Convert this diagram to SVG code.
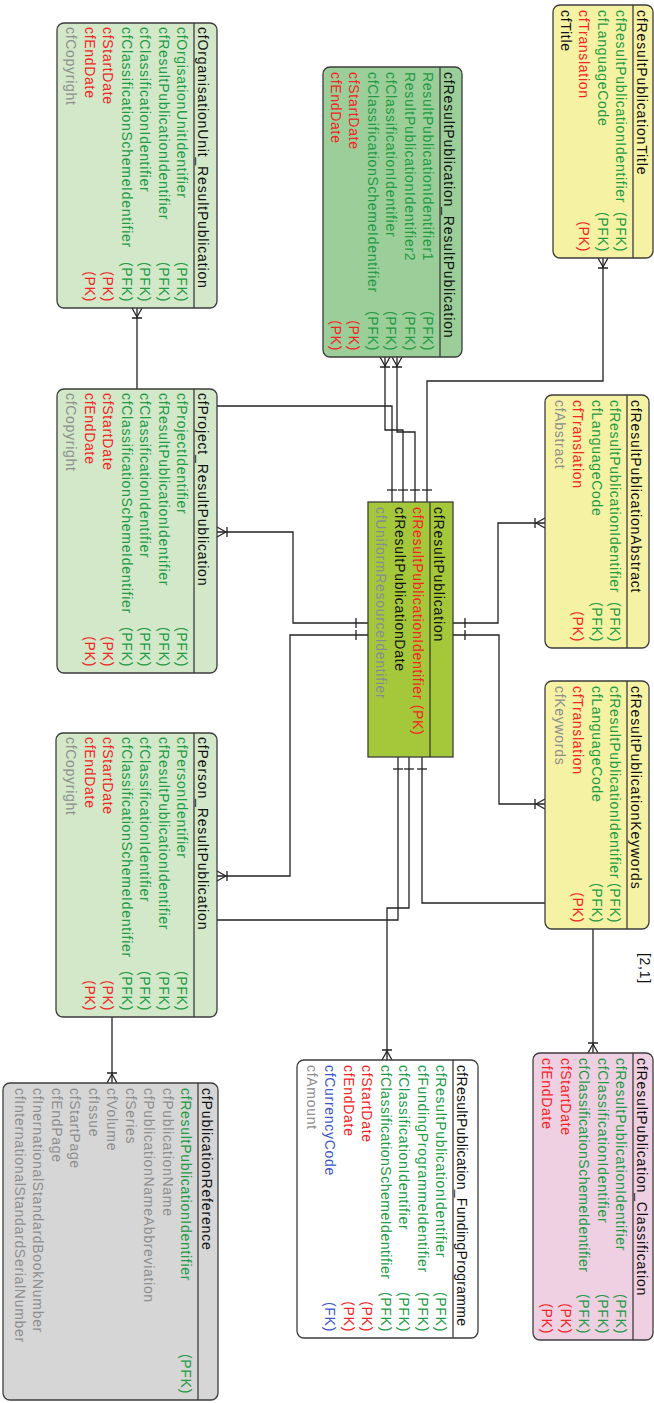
<svg xmlns="http://www.w3.org/2000/svg" width="654" height="1403" viewBox="0 0 654 1403">
  <style>
    text { font-family: "Liberation Sans", Arial, sans-serif; font-size: 14px; letter-spacing: 0.7px; }
    text.hd { letter-spacing: 0.85px; fill: #111; }
    text.hd.tight { letter-spacing: 0.3px; }
    text.snug { letter-spacing: 0.5px; }
    .box { stroke: #3c3c3c; stroke-width: 1.3; }
    .sep { stroke: #3c3c3c; stroke-width: 1.3; }
    .g { fill: #229a44; }
    .r { fill: #f22424; }
    .gr { fill: #8e8e8e; }
    .bl { fill: #3b58c6; }
    .k { fill: #111; }
    .end { text-anchor: end; }
    .yellow { fill: #f6f2a3; }
    .lgreen { fill: #d3e8c9; }
    .dgreen { fill: #9bce98; }
    .lime { fill: #a5c83b; }
    .pink { fill: #eed0e2; }
    .grey { fill: #d6d6d6; }
    .white { fill: #ffffff; }
    .conn path { fill: none; stroke: #222; stroke-width: 1.3; }
  </style>
  <defs>
    <marker id="one" markerUnits="userSpaceOnUse" markerWidth="20" markerHeight="20" orient="auto" overflow="visible">
      <path d="M12,-5 L12,5" stroke="#222" stroke-width="1.3" fill="none"/>
    </marker>
    <marker id="many" markerUnits="userSpaceOnUse" markerWidth="20" markerHeight="20" orient="auto" overflow="visible">
      <path d="M-9,0 L0,-5 M-9,0 L0,5 M-10,-5 L-10,5" stroke="#222" stroke-width="1.3" fill="none"/>
    </marker>
  </defs>

  <!-- relationship lines (drawn first so entity boxes sit on top) -->
  <g id="connectors" class="conn">
    <path d="M427,502 V381 H603 V258" marker-start="url(#one)" marker-end="url(#many)"/>
    <path d="M403,502 V430 H385 V357" marker-start="url(#one)" marker-end="url(#many)"/>
    <path d="M415,502 V432 H397 V357" marker-start="url(#one)" marker-end="url(#many)"/>
    <path d="M392,502 V406 H137 V308" marker-start="url(#one)" marker-end="url(#many)"/>
    <path d="M453,623 H498 V523 H545" marker-start="url(#one)" marker-end="url(#many)"/>
    <path d="M453,635 H499 V804 H545" marker-start="url(#one)" marker-end="url(#many)"/>
    <path d="M368,623 H293 V532 H217" marker-start="url(#one)" marker-end="url(#many)"/>
    <path d="M368,635 H290 V876 H217" marker-start="url(#one)" marker-end="url(#many)"/>
    <path d="M398,757 V920 H112 V1083" marker-start="url(#one)" marker-end="url(#many)"/>
    <path d="M409,757 V908 H387 V1060" marker-start="url(#one)" marker-end="url(#many)"/>
    <path d="M422,757 V903 H593 V1053" marker-start="url(#one)" marker-end="url(#many)"/>
    <text x="640" y="953" transform="rotate(90 640 953)" class="k">[2,1]</text>
  </g>

  <!-- entities: each group is laid out along the text direction and turned a quarter turn -->
  <g id="cfResultPublicationTitle" transform="translate(653,5) rotate(90)">
    <rect class="box yellow" x="0" y="0" width="253" height="100" rx="7"/>
    <line class="sep" x1="0" y1="20" x2="253" y2="20"/>
    <text class="hd" x="5" y="16">cfResultPublicationTitle</text>
    <text class="g" x="5" y="37">cfResultPublicationIdentifier</text><text class="g end" x="247" y="37">(PFK)</text>
    <text class="g" x="5" y="55.5">cfLanguageCode</text><text class="g end" x="247" y="55.5">(PFK)</text>
    <text class="r" x="5" y="74">cfTranslation</text><text class="r end" x="247" y="74">(PK)</text>
    <text class="k" x="5" y="92.5">cfTitle</text>
  </g>

  <g id="cfResultPublication_ResultPublication" transform="translate(462,67) rotate(90)">
    <rect class="box dgreen" x="0" y="0" width="290" height="139" rx="7"/>
    <line class="sep" x1="0" y1="22" x2="290" y2="22"/>
    <text class="hd" x="5" y="18">cfResultPublication_ResultPublication</text>
    <text class="g" x="5" y="39">ResultPublicationIdentifier1</text><text class="g end" x="284" y="39">(PFK)</text>
    <text class="g" x="5" y="57.5">ResultPublicationIdentifier2</text><text class="g end" x="284" y="57.5">(PFK)</text>
    <text class="g" x="5" y="76">cfClassificationIdentifier</text><text class="g end" x="284" y="76">(PFK)</text>
    <text class="g" x="5" y="94.5">cfClassificationSchemeIdentifier</text><text class="g end" x="284" y="94.5">(PFK)</text>
    <text class="r" x="5" y="113">cfStartDate</text><text class="r end" x="284" y="113">(PK)</text>
    <text class="r" x="5" y="131.5">cfEndDate</text><text class="r end" x="284" y="131.5">(PK)</text>
  </g>

  <g id="cfOrganisationUnit_ResultPublication" transform="translate(217,23) rotate(90)">
    <rect class="box lgreen" x="0" y="0" width="285" height="160" rx="7"/>
    <line class="sep" x1="0" y1="23" x2="285" y2="23"/>
    <text class="hd" x="4" y="19">cfOrganisationUnit_ResultPublication</text>
    <text class="g" x="4" y="40">cfOrgisationUnitIdentifier</text><text class="g end" x="279" y="40">(PFK)</text>
    <text class="g" x="4" y="58.5">cfResultPublicationIdentifier</text><text class="g end" x="279" y="58.5">(PFK)</text>
    <text class="g" x="4" y="77">cfClassificationIdentifier</text><text class="g end" x="279" y="77">(PFK)</text>
    <text class="g" x="4" y="95.5">cfClassificationSchemeIdentifier</text><text class="g end" x="279" y="95.5">(PFK)</text>
    <text class="r" x="4" y="114">cfStartDate</text><text class="r end" x="279" y="114">(PK)</text>
    <text class="r" x="4" y="132.5">cfEndDate</text><text class="r end" x="279" y="132.5">(PK)</text>
    <text class="gr" x="4" y="151">cfCopyright</text>
  </g>

  <g id="cfResultPublicationAbstract" transform="translate(649,395) rotate(90)">
    <rect class="box yellow" x="0" y="0" width="253" height="104" rx="7"/>
    <line class="sep" x1="0" y1="22" x2="253" y2="22"/>
    <text class="hd" x="5" y="18">cfResultPublicationAbstract</text>
    <text class="g" x="5" y="39">cfResultPublicationIdentifier</text><text class="g end" x="247" y="39">(PFK)</text>
    <text class="g" x="5" y="57.5">cfLanguageCode</text><text class="g end" x="247" y="57.5">(PFK)</text>
    <text class="r" x="5" y="76">cfTranslation</text><text class="r end" x="247" y="76">(PK)</text>
    <text class="gr" x="5" y="94.5">cfAbstract</text>
  </g>

  <g id="cfProject_ResultPublication" transform="translate(217,389) rotate(90)">
    <rect class="box lgreen" x="0" y="0" width="284" height="160" rx="7"/>
    <line class="sep" x1="0" y1="23" x2="284" y2="23"/>
    <text class="hd" x="4" y="19">cfProject_ResultPublication</text>
    <text class="g" x="4" y="40">cfProjectIdentifier</text><text class="g end" x="278" y="40">(PFK)</text>
    <text class="g" x="4" y="58.5">cfResultPublicationIdentifier</text><text class="g end" x="278" y="58.5">(PFK)</text>
    <text class="g" x="4" y="77">cfClassificationIdentifier</text><text class="g end" x="278" y="77">(PFK)</text>
    <text class="g" x="4" y="95.5">cfClassificationSchemeIdentifier</text><text class="g end" x="278" y="95.5">(PFK)</text>
    <text class="r" x="4" y="114">cfStartDate</text><text class="r end" x="278" y="114">(PK)</text>
    <text class="r" x="4" y="132.5">cfEndDate</text><text class="r end" x="278" y="132.5">(PK)</text>
    <text class="gr" x="4" y="151">cfCopyright</text>
  </g>

  <g id="cfResultPublication" transform="translate(453,502) rotate(90)">
    <rect class="box lime" x="0" y="0" width="255" height="85"/>
    <line class="sep" x1="0" y1="23" x2="255" y2="23"/>
    <text class="hd" x="5" y="19">cfResultPublication</text>
    <text class="r" x="5" y="40">cfResultPublicationIdentifier (PK)</text>
    <text class="k" x="5" y="58.5">cfResultPublicationDate</text>
    <text fill="#858c96" x="5" y="77">cfUniformResourceIdentifier</text>
  </g>

  <g id="cfResultPublicationKeywords" transform="translate(649,681) rotate(90)">
    <rect class="box yellow" x="0" y="0" width="248" height="104" rx="7"/>
    <line class="sep" x1="0" y1="22" x2="248" y2="22"/>
    <text class="hd" x="5" y="18">cfResultPublicationKeywords</text>
    <text class="g" x="5" y="39">cfResultPublicationIdentifier</text><text class="g end" x="242" y="39">(PFK)</text>
    <text class="g" x="5" y="57.5">cfLanguageCode</text><text class="g end" x="242" y="57.5">(PFK)</text>
    <text class="r" x="5" y="76">cfTranslation</text><text class="r end" x="242" y="76">(PK)</text>
    <text class="gr" x="5" y="94.5">cfKeywords</text>
  </g>

  <g id="cfPerson_ResultPublication" transform="translate(217,733) rotate(90)">
    <rect class="box lgreen" x="0" y="0" width="284" height="161" rx="7"/>
    <line class="sep" x1="0" y1="23" x2="284" y2="23"/>
    <text class="hd" x="4" y="19">cfPerson_ResultPublication</text>
    <text class="g" x="4" y="40">cfPersonIdentifier</text><text class="g end" x="278" y="40">(PFK)</text>
    <text class="g" x="4" y="58.5">cfResultPublicationIdentifier</text><text class="g end" x="278" y="58.5">(PFK)</text>
    <text class="g" x="4" y="77">cfClassificationIdentifier</text><text class="g end" x="278" y="77">(PFK)</text>
    <text class="g" x="4" y="95.5">cfClassificationSchemeIdentifier</text><text class="g end" x="278" y="95.5">(PFK)</text>
    <text class="r" x="4" y="114">cfStartDate</text><text class="r end" x="278" y="114">(PK)</text>
    <text class="r" x="4" y="132.5">cfEndDate</text><text class="r end" x="278" y="132.5">(PK)</text>
    <text class="gr" x="4" y="151">cfCopyright</text>
  </g>

  <g id="cfResultPublication_Classification" transform="translate(653,1053) rotate(90)">
    <rect class="box pink" x="0" y="0" width="287" height="120" rx="7"/>
    <line class="sep" x1="0" y1="20" x2="287" y2="20"/>
    <text class="hd" x="5" y="16">cfResultPublication_Classification</text>
    <text class="g" x="5" y="37">cfResultPublicationIdentifier</text><text class="g end" x="281" y="37">(PFK)</text>
    <text class="g" x="5" y="55.5">cfClassificationIdentifier</text><text class="g end" x="281" y="55.5">(PFK)</text>
    <text class="g snug" x="5" y="74">cfClassificationSchemeIdentifier</text><text class="g end" x="281" y="74">(PFK)</text>
    <text class="r" x="5" y="92.5">cfStartDate</text><text class="r end" x="281" y="92.5">(PK)</text>
    <text class="r" x="5" y="111">cfEndDate</text><text class="r end" x="281" y="111">(PK)</text>
  </g>

  <g id="cfResultPublication_FundingProgramme" transform="translate(478,1060) rotate(90)">
    <rect class="box white" x="0" y="0" width="278" height="181" rx="7"/>
    <line class="sep" x1="0" y1="25" x2="278" y2="25"/>
    <text class="hd tight" x="5" y="21">cfResultPublication_FundingProgramme</text>
    <text class="g" x="5" y="42">cfResultPublicationIdentifier</text><text class="g end" x="272" y="42">(PFK)</text>
    <text class="g" x="5" y="60.5">cfFundingProgrammeIdentifier</text><text class="g end" x="272" y="60.5">(PFK)</text>
    <text class="g" x="5" y="79">cfClassificationIdentifier</text><text class="g end" x="272" y="79">(PFK)</text>
    <text class="g snug" x="5" y="97.5">cfClassificationSchemeIdentifier</text><text class="g end" x="272" y="97.5">(PFK)</text>
    <text class="r" x="5" y="116">cfStartDate</text><text class="r end" x="272" y="116">(PK)</text>
    <text class="r" x="5" y="134.5">cfEndDate</text><text class="r end" x="272" y="134.5">(PK)</text>
    <text class="bl" x="5" y="153">cfCurrencyCode</text><text class="bl end" x="272" y="153">(FK)</text>
    <text class="gr" x="5" y="171.5">cfAmount</text>
  </g>

  <g id="cfPublicationReference" transform="translate(218,1083) rotate(90)">
    <rect class="box grey" x="0" y="0" width="317" height="215" rx="7"/>
    <line class="sep" x1="0" y1="20" x2="317" y2="20"/>
    <text class="hd" x="5" y="16">cfPublicationReference</text>
    <text class="g" x="5" y="37">cfResultPublicationIdentifier</text><text class="g end" x="311" y="37">(PFK)</text>
    <text class="gr" x="5" y="55.5">cfPublicationName</text>
    <text class="gr" x="5" y="74">cfPublicationNameAbbreviation</text>
    <text class="gr" x="5" y="92.5">cfSeries</text>
    <text class="gr" x="5" y="111">cfVolume</text>
    <text class="gr" x="5" y="129.5">cfIssue</text>
    <text class="gr" x="5" y="148">cfStartPage</text>
    <text class="gr" x="5" y="166.5">cfEndPage</text>
    <text class="gr" x="5" y="185">cfInernationalStandardBookNumber</text>
    <text class="gr" x="5" y="203.5">cfInternationalStandardSerialNumber</text>
  </g>
</svg>
